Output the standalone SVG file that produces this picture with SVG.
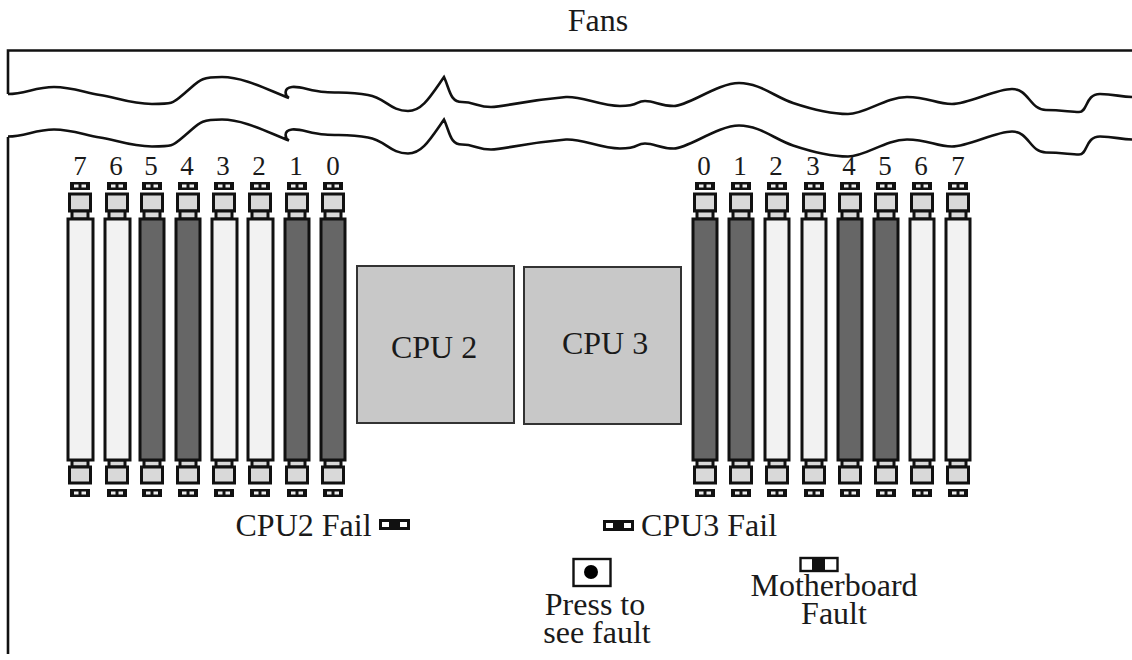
<svg xmlns="http://www.w3.org/2000/svg" width="1132" height="660" viewBox="0 0 1132 660">
<style>
text{font-family:"Liberation Serif","Times New Roman",serif;fill:#1a1a1a;font-size:32px;text-anchor:middle}
.n{font-size:27px}
.w{fill:none;stroke:#111;stroke-width:2.6}
.sq{fill:#d9d9d9;stroke:#111;stroke-width:3}
.lt{fill:#f2f2f2;stroke:#111;stroke-width:3}
.dk{fill:#666;stroke:#111;stroke-width:3}
.cpu{fill:#c8c8c8;stroke:#333;stroke-width:2}
.led{fill:#111}
.h{fill:#eee}
</style>
<defs>
<path id="wave" class="w" d="M8 94 C25 94 35 87 54 87 S85 93 100 95 S130 104 152 104 S172 104 186 92 S200 77 222 77 S268 90 289 98 C285 96 283 88 292 87 S310 91 325 92 S350 92 368 95 S390 111 408 111 C422 111 430 97 444 77 C450 90 450 102 462 102 S478 107 491 107 S520 101 566 97 C582 96 600 106 620 106 S635 101 645 101 S660 106 674 106 S718 83 739 83 S775 97 793 103 S830 114 848 114 S885 97 907 97 S935 104 952 104 S995 89 1012 89 S1030 110 1046 110 S1070 112 1079 112 S1085 94 1100 94 S1120 97 1132 97"/>
<g id="ledsm"><rect class="led" x="0" y="0" width="20" height="8"/><rect class="h" x="4" y="2.500" width="4.500" height="3"/><rect class="h" x="11.500" y="2.500" width="4.500" height="3"/></g>
<g id="ledwide"><rect x="1.500" y="1.500" width="28" height="8" fill="#fff" stroke="#111" stroke-width="3"/><rect class="led" x="10" y="1" width="11" height="9"/></g>
<g id="sl"><use href="#ledsm" x="-10" y="-37"/><rect class="sq" x="-10.500" y="-25" width="21" height="17"/><rect class="sq" x="-8" y="-8" width="16" height="8"/><use href="#ledsm" x="-10" y="270"/><rect class="sq" x="-8" y="241" width="16" height="7"/><rect class="sq" x="-10.500" y="248" width="21" height="16"/></g>
</defs>
<text x="598" y="31">Fans</text>
<g id="chassis">
<path class="w" d="M1132 50.500 H8 V94"/>
<path class="w" d="M8 137 V654"/>
<use href="#wave"/>
<use href="#wave" y="42.500"/>
</g>
<g id="dimms-cpu2">
<g id="L7"><text class="n" x="80" y="175">7</text><use href="#sl" x="80" y="219"/><rect class="lt" x="68" y="219" width="25" height="241"/></g>
<g id="L6"><text class="n" x="116" y="175">6</text><use href="#sl" x="117" y="219"/><rect class="lt" x="105" y="219" width="25" height="241"/></g>
<g id="L5"><text class="n" x="151" y="175">5</text><use href="#sl" x="152" y="219"/><rect class="dk" x="140" y="219" width="24" height="241"/></g>
<g id="L4"><text class="n" x="187" y="175">4</text><use href="#sl" x="188" y="219"/><rect class="dk" x="176" y="219" width="24" height="241"/></g>
<g id="L3"><text class="n" x="223" y="175">3</text><use href="#sl" x="224" y="219"/><rect class="lt" x="212" y="219" width="25" height="241"/></g>
<g id="L2"><text class="n" x="259" y="175">2</text><use href="#sl" x="260" y="219"/><rect class="lt" x="248" y="219" width="25" height="241"/></g>
<g id="L1"><text class="n" x="296" y="175">1</text><use href="#sl" x="297" y="219"/><rect class="dk" x="285" y="219" width="24" height="241"/></g>
<g id="L0"><text class="n" x="333" y="175">0</text><use href="#sl" x="333" y="219"/><rect class="dk" x="321" y="219" width="24" height="241"/></g>
</g>
<g id="dimms-cpu3">
<g id="R0"><text class="n" x="704" y="175">0</text><use href="#sl" x="705" y="219"/><rect class="dk" x="693" y="219" width="24" height="241"/></g>
<g id="R1"><text class="n" x="740" y="175">1</text><use href="#sl" x="741" y="219"/><rect class="dk" x="729" y="219" width="24" height="241"/></g>
<g id="R2"><text class="n" x="776" y="175">2</text><use href="#sl" x="777" y="219"/><rect class="lt" x="765" y="219" width="24" height="241"/></g>
<g id="R3"><text class="n" x="813" y="175">3</text><use href="#sl" x="814" y="219"/><rect class="lt" x="802" y="219" width="24" height="241"/></g>
<g id="R4"><text class="n" x="849" y="175">4</text><use href="#sl" x="850" y="219"/><rect class="dk" x="838" y="219" width="24" height="241"/></g>
<g id="R5"><text class="n" x="885" y="175">5</text><use href="#sl" x="886" y="219"/><rect class="dk" x="874" y="219" width="24" height="241"/></g>
<g id="R6"><text class="n" x="921" y="175">6</text><use href="#sl" x="922" y="219"/><rect class="lt" x="910" y="219" width="24" height="241"/></g>
<g id="R7"><text class="n" x="958" y="175">7</text><use href="#sl" x="958" y="219"/><rect class="lt" x="946" y="219" width="24" height="241"/></g>
</g>
<g id="cpu2"><rect class="cpu" x="357" y="266" width="157" height="157"/><text x="434" y="358">CPU 2</text></g>
<g id="cpu3"><rect class="cpu" x="524" y="267" width="157" height="157"/><text x="605" y="354">CPU 3</text></g>
<g id="cpu2-fail"><text x="303.500" y="536">CPU2 Fail</text><use href="#ledwide" x="379" y="519"/></g>
<g id="cpu3-fail"><use href="#ledwide" x="603" y="520"/><text x="709" y="536">CPU3 Fail</text></g>
<g id="press"><rect x="573.500" y="559" width="37" height="27" fill="#fff" stroke="#111" stroke-width="2.4"/><circle cx="591" cy="572" r="7" fill="#000"/><text x="595" y="615">Press to</text><text x="597" y="643">see fault</text></g>
<g id="mb-fault"><rect x="800.500" y="558" width="37" height="13" fill="#fff" stroke="#111" stroke-width="2.4"/><rect class="led" x="812" y="557" width="13" height="15"/><text x="834" y="596">Motherboard</text><text x="834" y="624">Fault</text></g>
</svg>
